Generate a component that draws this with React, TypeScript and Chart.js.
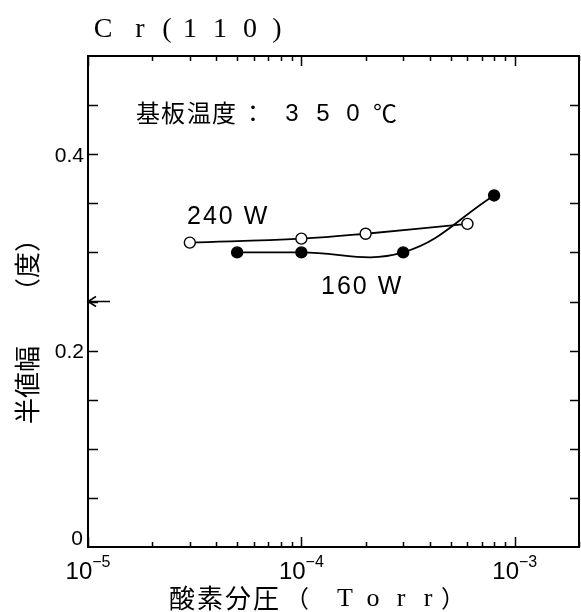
import React, { useEffect, useRef } from "react";
import { Chart, registerables } from "chart.js";

Chart.register(...registerables);

// ---- data ----
const pressure240W = [3e-5, 1e-4, 2e-4, 6e-4];
const fwhm240W = [0.31, 0.314, 0.319, 0.329];
const pressure160W = [5e-5, 1e-4, 3e-4, 8e-4];
const fwhm160W = [0.3, 0.3, 0.3, 0.358];

const xMin = 1e-5;
const xMax = 2e-3;
const yMin = 0;
const yMax = 0.5;
const xDecades = [-5, -4, -3];
const yTickValues = [0.05, 0.1, 0.15, 0.2, 0.25, 0.3, 0.35, 0.4, 0.45];
const yTickLabels = [
  { v: 0.4, t: "0.4" },
  { v: 0.2, t: "0.2" },
];
const arrowValue = 0.25;

const SANS = '"Liberation Sans", Arial, sans-serif';
const SERIF = '"Liberation Serif", "DejaVu Serif", serif';
const CJK = '"Noto Sans CJK JP", sans-serif';

const decorPlugin = {
  id: "decor",
  afterDraw(chart: any) {
    const ctx: CanvasRenderingContext2D = chart.ctx;
    const xs = chart.scales.x;
    const ys = chart.scales.y;
    const { left, right, top, bottom } = chart.chartArea;
    ctx.save();
    ctx.strokeStyle = "#000";
    ctx.fillStyle = "#000";

    // frame
    ctx.lineWidth = 2;
    ctx.strokeRect(left, top, right - left, bottom - top);

    // x ticks (log)
    ctx.lineWidth = 1.5;
    for (const d of xDecades) {
      for (let m = 1; m <= 9; m++) {
        const v = m * Math.pow(10, d);
        if (v < xMin * 0.999 || v > xMax * 1.001) continue;
        const px = Math.round(xs.getPixelForValue(v)) + 0.5;
        const len = m === 1 ? 10 : 5;
        ctx.beginPath();
        ctx.moveTo(px, bottom);
        ctx.lineTo(px, bottom - len);
        ctx.moveTo(px, top);
        ctx.lineTo(px, top + len);
        ctx.stroke();
      }
    }
    // y ticks
    for (const v of yTickValues) {
      const py = Math.round(ys.getPixelForValue(v)) + 0.5;
      ctx.beginPath();
      ctx.moveTo(left, py);
      ctx.lineTo(left + 10, py);
      ctx.moveTo(right, py);
      ctx.lineTo(right - 9, py);
      ctx.stroke();
    }
    // arrow at left axis
    {
      const py = ys.getPixelForValue(arrowValue);
      ctx.lineWidth = 1.5;
      ctx.beginPath();
      ctx.moveTo(left, py);
      ctx.lineTo(left + 22, py);
      ctx.moveTo(left + 8, py - 5);
      ctx.lineTo(left, py);
      ctx.lineTo(left + 8, py + 5);
      ctx.stroke();
    }

    // y tick labels
    ctx.font = `21px ${SANS}`;
    ctx.textAlign = "right";
    ctx.textBaseline = "middle";
    for (const l of yTickLabels) {
      ctx.fillText(l.t, left - 4, ys.getPixelForValue(l.v) + 2);
    }
    ctx.fillText("0", left - 5, ys.getPixelForValue(0) - 8);

    // x tick labels 10^d
    for (const d of xDecades) {
      const px = xs.getPixelForValue(Math.pow(10, d));
      ctx.font = `24px ${SANS}`;
      const wBase = ctx.measureText("10").width;
      ctx.font = `16px ${SANS}`;
      const exp = "\u2212" + String(-d);
      const wExp = ctx.measureText(exp).width;
      const x0 = px - (wBase + wExp) / 2;
      ctx.textAlign = "left";
      ctx.textBaseline = "alphabetic";
      ctx.font = `24px ${SANS}`;
      ctx.fillText("10", x0, bottom + 32);
      ctx.font = `16px ${SANS}`;
      ctx.fillText(exp, x0 + wBase, bottom + 20);
    }

    // title
    ctx.font = `28px ${SERIF}`;
    ctx.textAlign = "center";
    ctx.textBaseline = "alphabetic";
    const title = ["C", "r", "(", "1", "1", "0", ")"];
    const titleX = [103, 140, 167, 190, 220, 250, 277];
    title.forEach((c, i) => ctx.fillText(c, titleX[i], 37));

    // annotation
    ctx.font = `24px ${CJK}`;
    ctx.textAlign = "center";
    ctx.textBaseline = "middle";
    ["基", "板", "温", "度"].forEach((c, i) =>
      ctx.fillText(c, [148, 173, 199, 224][i], 113)
    );
    ctx.fillText("：", 253, 113);
    ctx.font = `24px ${SANS}`;
    ["3", "5", "0"].forEach((c, i) => ctx.fillText(c, [292, 323, 353][i], 114));
    ctx.font = `24px ${CJK}`;
    ctx.fillText("℃", 385, 113);

    // series labels
    ctx.font = `25px ${SANS}`;
    (ctx as any).letterSpacing = "2px";
    ctx.textAlign = "left";
    ctx.textBaseline = "alphabetic";
    ctx.fillText("240 W", 187, 224);
    ctx.fillText("160 W", 321, 294);
    (ctx as any).letterSpacing = "0px";

    // x title
    ctx.font = `26px ${CJK}`;
    ctx.textAlign = "center";
    ctx.textBaseline = "middle";
    ["酸", "素", "分", "圧"].forEach((c, i) =>
      ctx.fillText(c, [182, 210, 238, 266][i], 598)
    );
    ctx.font = `24px ${CJK}`;
    ctx.textAlign = "left";
    ctx.fillText("（", 285, 598);
    ctx.fillText("）", 441, 598);
    ctx.font = `26px ${SERIF}`;
    ctx.textAlign = "center";
    ["T", "o", "r", "r"].forEach((c, i) =>
      ctx.fillText(c, [345, 373, 401, 428][i], 599)
    );

    // y title (rotated)
    ctx.translate(27, 0);
    ctx.rotate(-Math.PI / 2);
    ctx.font = `26px ${CJK}`;
    ctx.textAlign = "left";
    ctx.textBaseline = "middle";
    ctx.fillText("半値幅", -424, 0);
    ctx.fillText("（度）", -304, 0);

    ctx.restore();
  },
};

export default function App() {
  const ref = useRef<HTMLCanvasElement | null>(null);
  useEffect(() => {
    document.body.style.margin = "0";
    const canvas = ref.current!;
    const chart = new Chart(canvas, {
      type: "line",
      data: {
        datasets: [
          {
            label: "240 W",
            data: pressure240W.map((x, i) => ({ x, y: fwhm240W[i] })),
            borderColor: "#000",
            borderWidth: 1.8,
            tension: 0.4,
            pointRadius: 5.5,
            pointBackgroundColor: "#fff",
            pointBorderColor: "#000",
            pointBorderWidth: 1.4,
          },
          {
            label: "160 W",
            data: pressure160W.map((x, i) => ({ x, y: fwhm160W[i] })),
            borderColor: "#000",
            borderWidth: 1.8,
            tension: 0.4,
            pointRadius: 5.5,
            pointBackgroundColor: "#000",
            pointBorderColor: "#000",
            pointBorderWidth: 1.4,
          },
        ],
      },
      options: {
        animation: false,
        responsive: false,
        devicePixelRatio: 1,
        layout: {
          autoPadding: false,
          padding: { left: 88, right: 2, top: 56, bottom: 65 },
        },
        plugins: { legend: { display: false }, tooltip: { enabled: false } },
        scales: {
          x: { type: "logarithmic", min: xMin, max: xMax, display: false },
          y: { type: "linear", min: yMin, max: yMax, display: false },
        },
      },
      plugins: [decorPlugin],
    });
    return () => chart.destroy();
  }, []);
  return (
    <div style={{ width: 581, height: 612, background: "#fff" }}>
      <canvas ref={ref} width={581} height={612} style={{ display: "block" }} />
    </div>
  );
}
